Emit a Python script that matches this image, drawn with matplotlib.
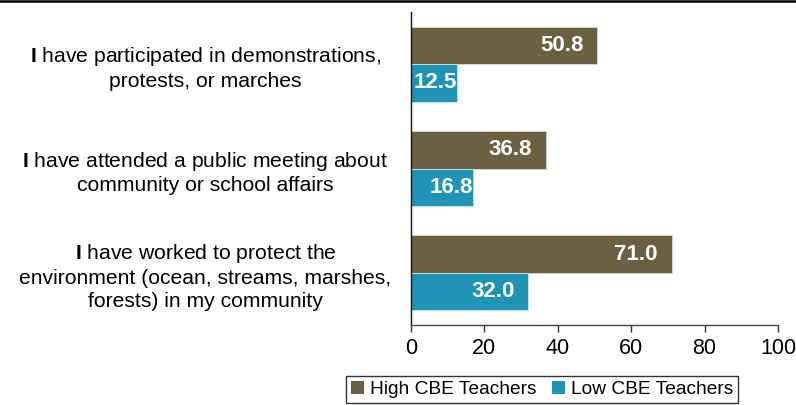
import matplotlib
matplotlib.use("Agg")
import matplotlib.pyplot as plt
from matplotlib.lines import Line2D
import numpy as np

plt.rcParams['font.family'] = ['Liberation Sans', 'DejaVu Sans']
plt.rcParams['mathtext.fontset'] = 'custom'
plt.rcParams['mathtext.rm'] = 'Liberation Sans'
plt.rcParams['mathtext.bf'] = 'Liberation Sans:bold'

categories = [
    "$\\mathbf{I}$ have participated in demonstrations,\nprotests, or marches",
    "$\\mathbf{I}$ have attended a public meeting about\ncommunity or school affairs",
    "$\\mathbf{I}$ have worked to protect the\nenvironment (ocean, streams, marshes,\nforests) in my community",
]
series_names = ["High CBE Teachers", "Low CBE Teachers"]
high_values = [50.8, 36.8, 71.0]
low_values = [12.5, 16.8, 32.0]
x_ticks = [0, 20, 40, 60, 80, 100]

high_color = "#6B6142"
low_color = "#1F93B3"

fig = plt.figure(figsize=(7.96, 4.05), dpi=100)
ax = fig.add_axes([0.5163, 0.1975, 0.4611, 0.7729])

y = np.arange(len(categories))
h = 0.36
bars_high = ax.barh(y - h / 2, high_values, height=h, color=high_color,
                    edgecolor="#d8d6cc", linewidth=0.6, label=series_names[0])
bars_low = ax.barh(y + h / 2, low_values, height=h, color=low_color,
                   edgecolor="#cfe6ee", linewidth=0.6, label=series_names[1])

# value labels sit just inside the bar end; short bars get them flush to the end
for bars, vals in ((bars_high, high_values), (bars_low, low_values)):
    for b, v in zip(bars, vals):
        off = -14 if v > 20 else 0
        ax.annotate(f"{v:.1f}", xy=(v, b.get_y() + b.get_height() / 2),
                    xytext=(off, 0), textcoords="offset pixels",
                    ha="right", va="center", color="white",
                    fontsize=16, fontweight="bold")

ax.set_xlim(0, 100)
ax.set_ylim(len(categories) - 0.5, -0.5)
ax.set_xticks(x_ticks)
ax.set_xticklabels([str(t) for t in x_ticks], fontsize=15.5)
ax.set_yticks(y)
ax.set_yticklabels(categories, fontsize=15.2, ha="center",
                   multialignment="center", linespacing=1.25)
ax.tick_params(axis="y", length=0, pad=148)
ax.tick_params(axis="x", length=5, width=1, color="#333333", pad=4)

for s in ("top", "right"):
    ax.spines[s].set_visible(False)
ax.spines["left"].set_color("#111111")
ax.spines["bottom"].set_color("#444444")
ax.spines["left"].set_linewidth(1.0)
ax.spines["bottom"].set_linewidth(1.0)

fig.add_artist(Line2D([0, 1], [1 - 1.3 / 405, 1 - 1.3 / 405],
                      transform=fig.transFigure, color="black", linewidth=1.8))

leg = fig.legend(loc="upper center", bbox_to_anchor=(542 / 796, 1 - 376 / 405),
                 ncol=2, fontsize=13.8, frameon=True, fancybox=False,
                 handlelength=0.7, handleheight=0.7, handletextpad=0.3,
                 columnspacing=0.8, borderpad=0.25, borderaxespad=0)
leg.get_frame().set_edgecolor("black")
leg.get_frame().set_linewidth(1.0)
for hnd in leg.legend_handles:
    hnd.set_edgecolor("none")

fig.savefig("out.png", dpi=100)
